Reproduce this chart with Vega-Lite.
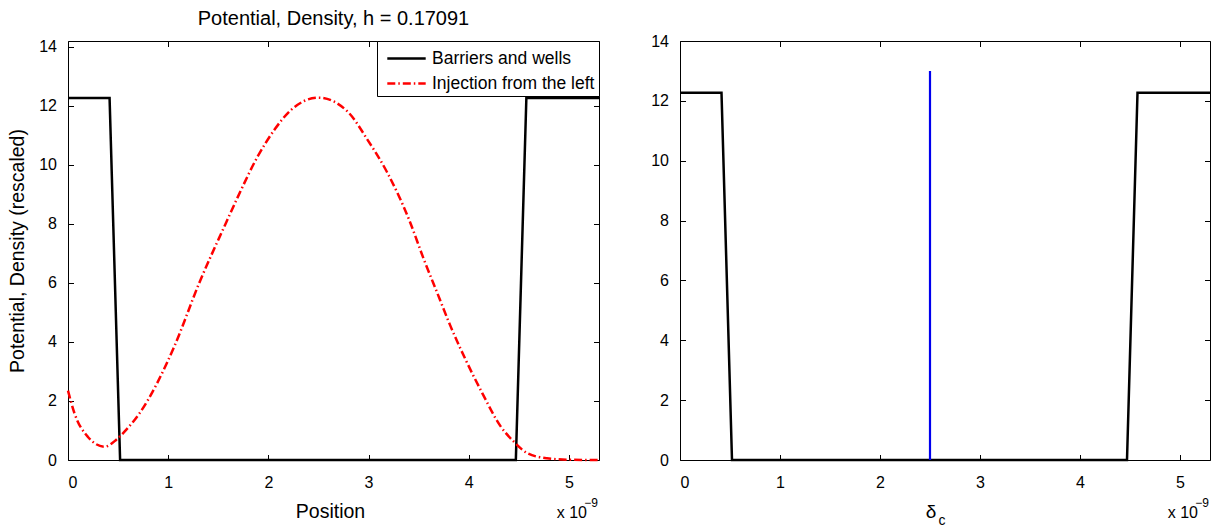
{
  "$schema": "https://vega.github.io/schema/vega-lite/v6.json",
  "background": "white",
  "padding": {"left": 7, "top": 8, "right": 5, "bottom": 0},
  "datasets": {
    "potential": [
      {"x": 0, "y": 12.27, "s": "Barriers and wells"},
      {"x": 0.415, "y": 12.27, "s": "Barriers and wells"},
      {"x": 0.52, "y": 0, "s": "Barriers and wells"},
      {"x": 4.47, "y": 0, "s": "Barriers and wells"},
      {"x": 4.575, "y": 12.27, "s": "Barriers and wells"},
      {"x": 5.3, "y": 12.27, "s": "Barriers and wells"}
    ],
    "density": [
      {"x": 0, "y": 2.35, "s": "Injection from the left"},
      {"x": 0.065, "y": 1.58, "s": "Injection from the left"},
      {"x": 0.197, "y": 0.79, "s": "Injection from the left"},
      {"x": 0.364, "y": 0.45, "s": "Injection from the left"},
      {"x": 0.48, "y": 0.68, "s": "Injection from the left"},
      {"x": 0.58, "y": 1.02, "s": "Injection from the left"},
      {"x": 0.713, "y": 1.58, "s": "Injection from the left"},
      {"x": 1.06, "y": 3.84, "s": "Injection from the left"},
      {"x": 1.31, "y": 6.0, "s": "Injection from the left"},
      {"x": 1.56, "y": 7.91, "s": "Injection from the left"},
      {"x": 1.693, "y": 8.9, "s": "Injection from the left"},
      {"x": 1.892, "y": 10.28, "s": "Injection from the left"},
      {"x": 2.06, "y": 11.19, "s": "Injection from the left"},
      {"x": 2.225, "y": 11.86, "s": "Injection from the left"},
      {"x": 2.5, "y": 12.28, "s": "Injection from the left"},
      {"x": 2.79, "y": 11.81, "s": "Injection from the left"},
      {"x": 2.99, "y": 10.85, "s": "Injection from the left"},
      {"x": 3.19, "y": 9.72, "s": "Injection from the left"},
      {"x": 3.405, "y": 8.14, "s": "Injection from the left"},
      {"x": 3.554, "y": 6.78, "s": "Injection from the left"},
      {"x": 3.687, "y": 5.65, "s": "Injection from the left"},
      {"x": 3.82, "y": 4.52, "s": "Injection from the left"},
      {"x": 3.97, "y": 3.39, "s": "Injection from the left"},
      {"x": 4.136, "y": 2.26, "s": "Injection from the left"},
      {"x": 4.32, "y": 1.13, "s": "Injection from the left"},
      {"x": 4.45, "y": 0.62, "s": "Injection from the left"},
      {"x": 4.585, "y": 0.23, "s": "Injection from the left"},
      {"x": 4.78, "y": 0.06, "s": "Injection from the left"},
      {"x": 5.0, "y": 0.01, "s": "Injection from the left"},
      {"x": 5.3, "y": 0.0, "s": "Injection from the left"}
    ],
    "marker": [{"x": 2.5, "y": 0, "y2": 13}],
    "corner": [{"x": 5.3, "y": 0}],
    "deltaLabel": [{"x": 2.51, "y": 0, "t": "δ"}],
    "subLabel": [{"x": 2.62, "y": 0, "t": "c"}]
  },
  "config": {
    "view": {"stroke": "black", "strokeWidth": 1},
    "font": "Liberation Sans",
    "axis": {
      "domain": false,
      "grid": false,
      "tickColor": "black",
      "tickSize": -5.5,
      "tickWidth": 1,
      "labelColor": "black",
      "labelFont": "Liberation Sans",
      "labelFontSize": 16,
      "titleFont": "Liberation Sans",
      "titleFontSize": 19.5,
      "titleFontWeight": "normal",
      "titleColor": "black"
    },
    "axisX": {"labelPadding": 20, "titlePadding": 12},
    "axisY": {"labelPadding": 17, "titlePadding": 11},
    "legend": {"labelLimit": 0},
    "concat": {"spacing": 45}
  },
  "resolve": {
    "scale": {"color": "independent", "strokeDash": "independent"},
    "legend": {"color": "independent", "strokeDash": "independent"}
  },
  "hconcat": [
    {
      "width": 531,
      "height": 419,
      "title": {"text": "Potential, Density, h = 0.17091", "fontSize": 20, "font": "Liberation Sans", "fontWeight": "normal", "color": "black", "anchor": "middle", "offset": 10},
      "layer": [
        {
          "data": {"name": "potential"},
          "mark": {"type": "line", "strokeWidth": 2.5},
          "encoding": {
            "x": {"field": "x", "type": "quantitative", "scale": {"domain": [0, 5.3], "nice": false, "zero": false}, "axis": {"values": [0, 1, 2, 3, 4, 5], "title": "Position", "titleX": 262}},
            "y": {"field": "y", "type": "quantitative", "scale": {"domain": [0, 14.2], "nice": false}, "axis": {"values": [0, 2, 4, 6, 8, 10, 12, 14], "title": "Potential, Density (rescaled)"}},
            "color": {"field": "s", "type": "nominal", "scale": {"domain": ["Barriers and wells", "Injection from the left"], "range": ["black", "red"]},
              "legend": {"orient": "top-right", "offset": 0, "title": null, "fillColor": "white", "strokeColor": "black", "padding": 4, "labelFont": "Liberation Sans", "labelFontSize": 17.5, "labelColor": "black", "labelLimit": 0, "symbolType": "M-0.6,0H2.6", "symbolSize": 576, "symbolStrokeWidth": 2.5, "labelOffset": 24, "rowPadding": 3}},
            "strokeDash": {"field": "s", "type": "nominal", "scale": {"domain": ["Barriers and wells", "Injection from the left"], "range": [[1, 0], [8, 3, 1.5, 3]]},
              "legend": {"orient": "top-right", "offset": 0, "title": null, "fillColor": "white", "strokeColor": "black", "padding": 4, "labelFont": "Liberation Sans", "labelFontSize": 17.5, "labelColor": "black", "labelLimit": 0, "symbolType": "M-0.6,0H2.6", "symbolSize": 576, "symbolStrokeWidth": 2.5, "labelOffset": 24, "rowPadding": 3}}
          }
        },
        {
          "data": {"name": "density"},
          "mark": {"type": "line", "strokeWidth": 2.5, "interpolate": "monotone"},
          "encoding": {
            "x": {"field": "x", "type": "quantitative", "scale": {"domain": [0, 5.3], "nice": false, "zero": false}, "axis": null},
            "y": {"field": "y", "type": "quantitative", "scale": {"domain": [0, 14.2], "nice": false}, "axis": null},
            "color": {"field": "s", "type": "nominal", "scale": {"domain": ["Barriers and wells", "Injection from the left"], "range": ["black", "red"]},
              "legend": {"orient": "top-right", "offset": 0, "title": null, "fillColor": "white", "strokeColor": "black", "padding": 4, "labelFont": "Liberation Sans", "labelFontSize": 17.5, "labelColor": "black", "labelLimit": 0, "symbolType": "M-0.6,0H2.6", "symbolSize": 576, "symbolStrokeWidth": 2.5, "labelOffset": 24, "rowPadding": 3}},
            "strokeDash": {"field": "s", "type": "nominal", "scale": {"domain": ["Barriers and wells", "Injection from the left"], "range": [[1, 0], [8, 3, 1.5, 3]]},
              "legend": {"orient": "top-right", "offset": 0, "title": null, "fillColor": "white", "strokeColor": "black", "padding": 4, "labelFont": "Liberation Sans", "labelFontSize": 17.5, "labelColor": "black", "labelLimit": 0, "symbolType": "M-0.6,0H2.6", "symbolSize": 576, "symbolStrokeWidth": 2.5, "labelOffset": 24, "rowPadding": 3}}
          }
        },
        {
          "data": {"name": "potential"},
          "mark": {"type": "point", "opacity": 0},
          "encoding": {
            "x": {"field": "x", "type": "quantitative", "scale": {"domain": [0, 5.3], "nice": false, "zero": false}, "axis": {"orient": "top", "values": [0, 1, 2, 3, 4, 5], "labels": false, "title": null}},
            "y": {"field": "y", "type": "quantitative", "scale": {"domain": [0, 14.2], "nice": false}, "axis": {"orient": "right", "values": [0, 2, 4, 6, 8, 10, 12, 14], "labels": false, "title": null}}
          }
        },
        {
          "data": {"name": "corner"},
          "mark": {"type": "text", "text": "x 10", "align": "right", "baseline": "alphabetic", "dx": -12, "dy": 58, "fontSize": 16, "font": "Liberation Sans", "color": "black"},
          "encoding": {
            "x": {"field": "x", "type": "quantitative", "scale": {"domain": [0, 5.3], "nice": false, "zero": false}, "axis": null},
            "y": {"field": "y", "type": "quantitative", "scale": {"domain": [0, 14.2], "nice": false}, "axis": null}
          }
        },
        {
          "data": {"name": "corner"},
          "mark": {"type": "text", "text": "−9", "align": "right", "baseline": "alphabetic", "dx": -1, "dy": 47, "fontSize": 12, "font": "Liberation Sans", "color": "black"},
          "encoding": {
            "x": {"field": "x", "type": "quantitative", "scale": {"domain": [0, 5.3], "nice": false, "zero": false}, "axis": null},
            "y": {"field": "y", "type": "quantitative", "scale": {"domain": [0, 14.2], "nice": false}, "axis": null}
          }
        }
      ],
      "resolve": {"axis": {"x": "independent", "y": "independent"}}
    },
    {
      "width": 530,
      "height": 419,
      "layer": [
        {
          "data": {"name": "potential"},
          "mark": {"type": "line", "strokeWidth": 2.5, "color": "black"},
          "encoding": {
            "x": {"field": "x", "type": "quantitative", "scale": {"domain": [0, 5.3], "nice": false, "zero": false}, "axis": {"values": [0, 1, 2, 3, 4, 5], "title": null}},
            "y": {"field": "y", "type": "quantitative", "scale": {"domain": [0, 14], "nice": false}, "axis": {"values": [0, 2, 4, 6, 8, 10, 12, 14], "title": null}}
          }
        },
        {
          "data": {"name": "marker"},
          "mark": {"type": "rule", "strokeWidth": 2.2, "color": "#0000ee"},
          "encoding": {
            "x": {"field": "x", "type": "quantitative", "scale": {"domain": [0, 5.3], "nice": false, "zero": false}, "axis": null},
            "y": {"field": "y", "type": "quantitative", "scale": {"domain": [0, 14], "nice": false}, "axis": null},
            "y2": {"field": "y2"}
          }
        },
        {
          "data": {"name": "potential"},
          "mark": {"type": "point", "opacity": 0},
          "encoding": {
            "x": {"field": "x", "type": "quantitative", "scale": {"domain": [0, 5.3], "nice": false, "zero": false}, "axis": {"orient": "top", "values": [0, 1, 2, 3, 4, 5], "labels": false, "title": null}},
            "y": {"field": "y", "type": "quantitative", "scale": {"domain": [0, 14], "nice": false}, "axis": {"orient": "right", "values": [0, 2, 4, 6, 8, 10, 12, 14], "labels": false, "title": null}}
          }
        },
        {
          "data": {"name": "corner"},
          "mark": {"type": "text", "text": "x 10", "align": "right", "baseline": "alphabetic", "dx": -12, "dy": 58, "fontSize": 16, "font": "Liberation Sans", "color": "black"},
          "encoding": {
            "x": {"field": "x", "type": "quantitative", "scale": {"domain": [0, 5.3], "nice": false, "zero": false}, "axis": null},
            "y": {"field": "y", "type": "quantitative", "scale": {"domain": [0, 14], "nice": false}, "axis": null}
          }
        },
        {
          "data": {"name": "corner"},
          "mark": {"type": "text", "text": "−9", "align": "right", "baseline": "alphabetic", "dx": -1, "dy": 47, "fontSize": 12, "font": "Liberation Sans", "color": "black"},
          "encoding": {
            "x": {"field": "x", "type": "quantitative", "scale": {"domain": [0, 5.3], "nice": false, "zero": false}, "axis": null},
            "y": {"field": "y", "type": "quantitative", "scale": {"domain": [0, 14], "nice": false}, "axis": null}
          }
        },
        {
          "data": {"name": "deltaLabel"},
          "mark": {"type": "text", "align": "center", "baseline": "alphabetic", "dy": 58, "fontSize": 19, "font": "Liberation Sans", "color": "black"},
          "encoding": {
            "text": {"field": "t"},
            "x": {"field": "x", "type": "quantitative", "scale": {"domain": [0, 5.3], "nice": false, "zero": false}, "axis": null},
            "y": {"field": "y", "type": "quantitative", "scale": {"domain": [0, 14], "nice": false}, "axis": null}
          }
        },
        {
          "data": {"name": "subLabel"},
          "mark": {"type": "text", "align": "center", "baseline": "alphabetic", "dy": 65, "fontSize": 14, "font": "Liberation Sans", "color": "black"},
          "encoding": {
            "text": {"field": "t"},
            "x": {"field": "x", "type": "quantitative", "scale": {"domain": [0, 5.3], "nice": false, "zero": false}, "axis": null},
            "y": {"field": "y", "type": "quantitative", "scale": {"domain": [0, 14], "nice": false}, "axis": null}
          }
        }
      ],
      "resolve": {"axis": {"x": "independent", "y": "independent"}}
    }
  ]
}
